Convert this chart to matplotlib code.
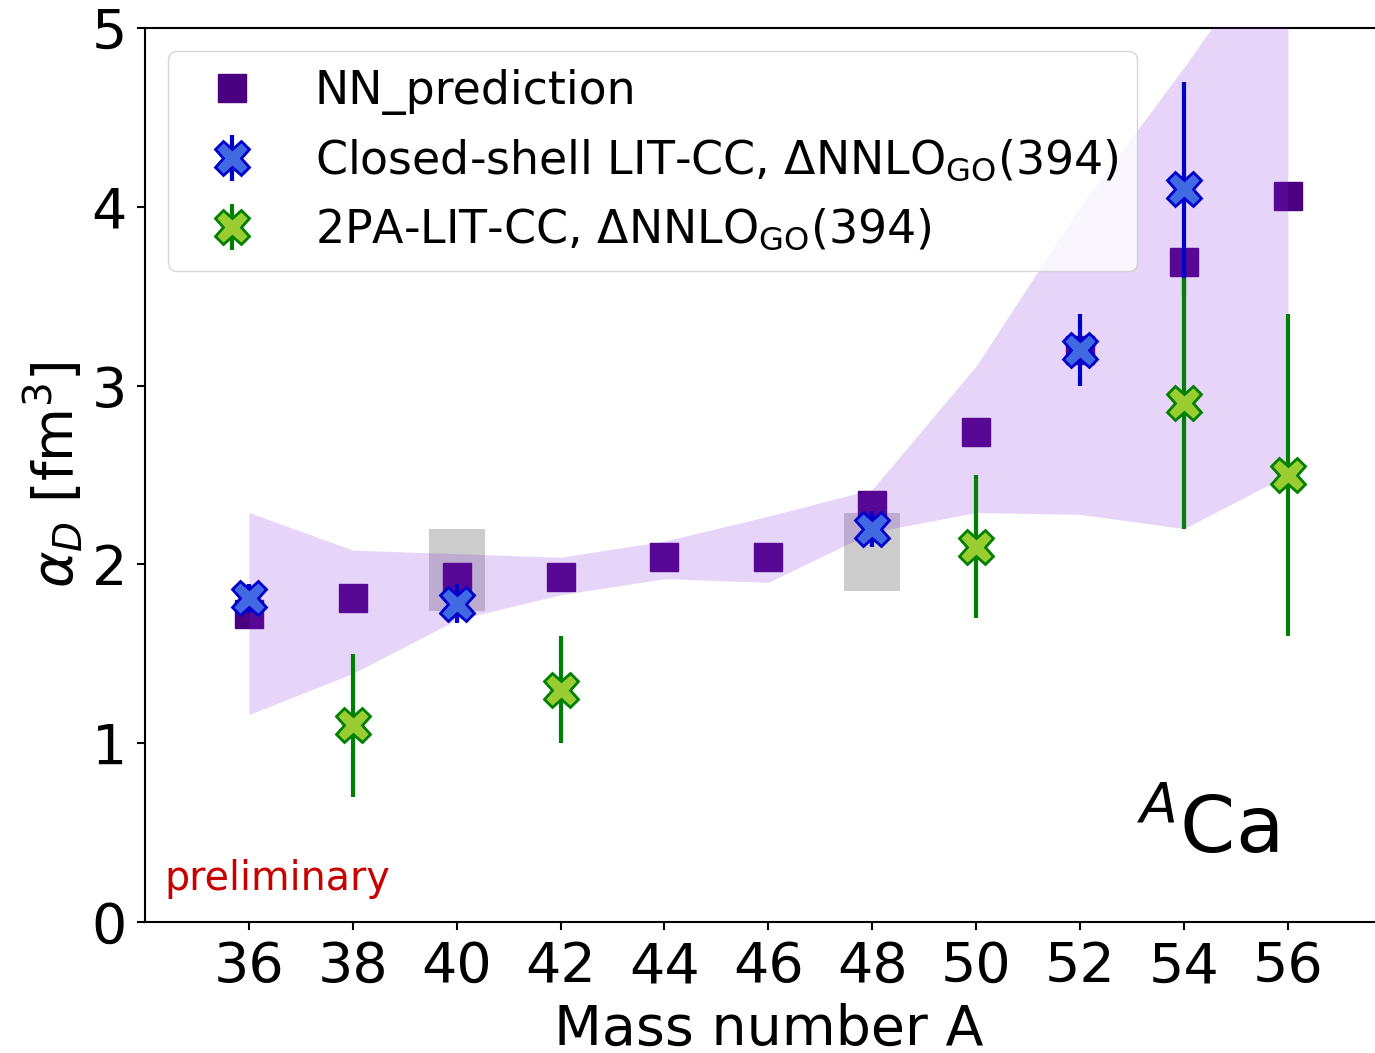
import numpy as np
import matplotlib.pyplot as plt

# mass numbers of the calcium chain
mass_A = [36, 38, 40, 42, 44, 46, 48, 50, 52, 54, 56]

# NN prediction (central values) and its uncertainty band
nn_pred = [1.72, 1.81, 1.93, 1.93, 2.04, 2.04, 2.33, 2.74, 3.20, 3.69, 4.06]
band_lo = [1.16, 1.39, 1.69, 1.83, 1.92, 1.90, 2.18, 2.29, 2.28, 2.20, 2.50]
band_hi = [2.29, 2.08, 2.06, 2.04, 2.13, 2.27, 2.42, 3.11, 4.00, 4.78, 5.60]

# closed-shell LIT-CC
cs_A = [36, 40, 48, 52, 54]
cs_val = [1.81, 1.78, 2.20, 3.20, 4.10]
cs_err = [0.08, 0.11, 0.10, 0.20, 0.60]

# 2PA-LIT-CC
pa_A = [38, 42, 50, 54, 56]
pa_val = [1.10, 1.30, 2.10, 2.90, 2.50]
pa_err = [0.40, 0.30, 0.40, 0.70, 0.90]

# experimental values (grey boxes)
exp_A = [40, 48]
exp_val = [1.97, 2.07]
exp_err = [0.23, 0.22]


def plot_graph():
    fig = plt.figure(figsize=(13.75, 10.53), dpi=100)
    ax = fig.add_axes([0.10545, 0.12441, 0.90676, 0.84900])

    exp_val_a = np.array(exp_val)
    exp_err_a = np.array(exp_err)
    ax.bar(exp_A, 2 * exp_err_a, bottom=exp_val_a - exp_err_a, width=1.08,
           color="gray", alpha=0.4, lw=0, zorder=1)

    ax.plot(mass_A, nn_pred, "s", color="indigo", ms=20,
            label="NN_prediction", zorder=2)
    ax.fill_between(mass_A, band_lo, band_hi, color="blueviolet",
                    alpha=0.2, lw=0, zorder=3)

    ax.errorbar(cs_A, cs_val, yerr=cs_err, fmt="X", ms=25, mew=2,
                mfc="royalblue", mec="mediumblue", ecolor="mediumblue",
                elinewidth=3, capsize=0, zorder=4,
                label=r"Closed-shell LIT-CC, $\Delta$NNLO$_{\rm GO}$(394)")
    ax.errorbar(pa_A, pa_val, yerr=pa_err, fmt="X", ms=25, mew=2,
                mfc="yellowgreen", mec="green", ecolor="green",
                elinewidth=3, capsize=0, zorder=4,
                label=r"2PA-LIT-CC, $\Delta$NNLO$_{\rm GO}$(394)")

    ax.set_xlim(34, 58)
    ax.set_ylim(0, 5)
    ax.set_xticks(mass_A)
    ax.set_yticks([0, 1, 2, 3, 4, 5])
    ax.tick_params(labelsize=40, width=1.5, length=6, pad=7)
    for sp in ax.spines.values():
        sp.set_linewidth(1.5)

    ax.set_xlabel("Mass number A", fontsize=40, labelpad=6)
    ax.set_ylabel(r"$\alpha_D$ [fm$^3$]", fontsize=40)

    ax.text(34.38, 0.179, "preliminary", color="#c80000", fontsize=28.5)
    ax.text(53.1, 0.386, r"$^{A}$Ca", fontsize=57)

    ax.legend(loc="upper left", fontsize=33)

    fig.savefig("out.png", dpi=100)


def main():
    plot_graph()


if __name__ == "__main__":
    main()
